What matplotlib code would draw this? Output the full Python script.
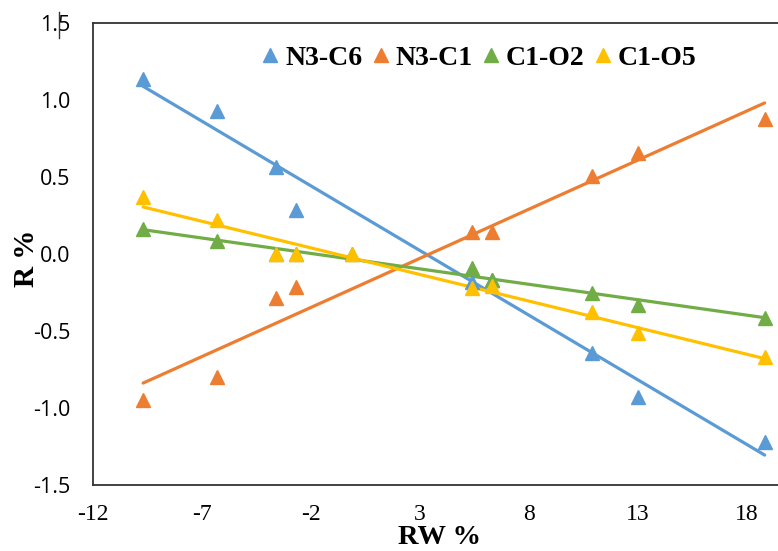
import numpy as np
import matplotlib
matplotlib.use("Agg")
import matplotlib.pyplot as plt
from matplotlib.lines import Line2D

# RW % values
rw_n3c6 = [-9.7, -6.3, -3.6, -2.7, 5.4, 6.3, 10.9, 13.0, 18.8]
r_n3c6 = [1.14, 0.93, 0.565, 0.285, -0.18, -0.17, -0.645, -0.93, -1.22]

rw_n3c1 = [-9.7, -6.3, -3.6, -2.7, 5.4, 6.3, 10.9, 13.0, 18.8]
r_n3c1 = [-0.95, -0.80, -0.285, -0.215, 0.145, 0.145, 0.51, 0.655, 0.88]

rw_c1o2 = [-9.7, -6.3, -3.6, -2.7, -0.1, 5.4, 6.3, 10.9, 13.0, 18.8]
r_c1o2 = [0.165, 0.085, 0.0, 0.0, 0.0, -0.09, -0.165, -0.25, -0.33, -0.415]

rw_c1o5 = [-9.7, -6.3, -3.6, -2.7, -0.1, 5.4, 6.3, 10.9, 13.0, 18.8]
r_c1o5 = [0.37, 0.22, 0.0, 0.0, 0.0, -0.22, -0.21, -0.375, -0.51, -0.67]

series_names = ["N3-C6", "N3-C1", "C1-O2", "C1-O5"]
series_colors = ["#5B9BD5", "#ED7D31", "#70AD47", "#FFC000"]
xticks = [-12, -7, -2, 3, 8, 13, 18]
yticks = [-1.5, -1.0, -0.5, 0.0, 0.5, 1.0, 1.5]

fig = plt.figure(figsize=(7.78, 5.51), dpi=100)
ax = fig.add_axes([0.1195, 0.1198, 0.897, 0.838])

all_x = [rw_n3c6, rw_n3c1, rw_c1o2, rw_c1o5]
all_y = [r_n3c6, r_n3c1, r_c1o2, r_c1o5]

handles = []
for x, y, name, c in zip(all_x, all_y, series_names, series_colors):
    x = np.array(x)
    y = np.array(y)
    # linear trendline, like Excel
    k, b = np.polyfit(x, y, 1)
    xs = np.array([x.min(), x.max()])
    ax.plot(xs, k * xs + b, color=c, lw=2.3, zorder=2, solid_capstyle="round")
    ax.plot(x, y, ls="none", marker="^", ms=10, color=c, mec=c, zorder=3)
    handles.append(Line2D([], [], ls="none", marker="^", ms=10, color=c, label=name))

ax.set_xlim(-12, 20)
ax.set_ylim(-1.5, 1.5)
ax.set_xticks(xticks)
ax.set_yticks(yticks)
ax.set_xticklabels([str(t) for t in xticks], fontfamily="Liberation Serif", fontsize=17)
ax.set_yticklabels([f"{t:.1f}" for t in yticks], fontfamily="Open Sans", fontsize=15.5)
ax.tick_params(length=0)
ax.tick_params(axis="y", pad=16)
ax.tick_params(axis="x", pad=14)

for s in ["left", "top", "bottom"]:
    ax.spines[s].set_color("#333333")
    ax.spines[s].set_linewidth(1.3)
ax.spines["right"].set_visible(False)

ax.set_xlabel("RW %", fontfamily="Liberation Serif", fontweight="bold", fontsize=20.5)
ax.set_ylabel("R %", fontfamily="Liberation Serif", fontweight="bold", fontsize=21)
ax.xaxis.set_label_coords(0.497, -0.087)
ax.yaxis.set_label_coords(-0.076, 0.49)

fig.legend(handles=handles, loc="center left", bbox_to_anchor=(262 / 778, 1 - 58 / 551), ncol=4,
           frameon=False, handlelength=0.6, handletextpad=0.25, columnspacing=0.34,
           borderpad=0, borderaxespad=0,
           prop={"family": "Liberation Serif", "weight": "bold", "size": 20})

# small stray tick mark over the top label
fig.add_artist(Line2D([59 / 778, 59 / 778], [1 - 12 / 551, 1 - 38 / 551], color="#333333", lw=1.0))

fig.savefig("out.png", dpi=100)
